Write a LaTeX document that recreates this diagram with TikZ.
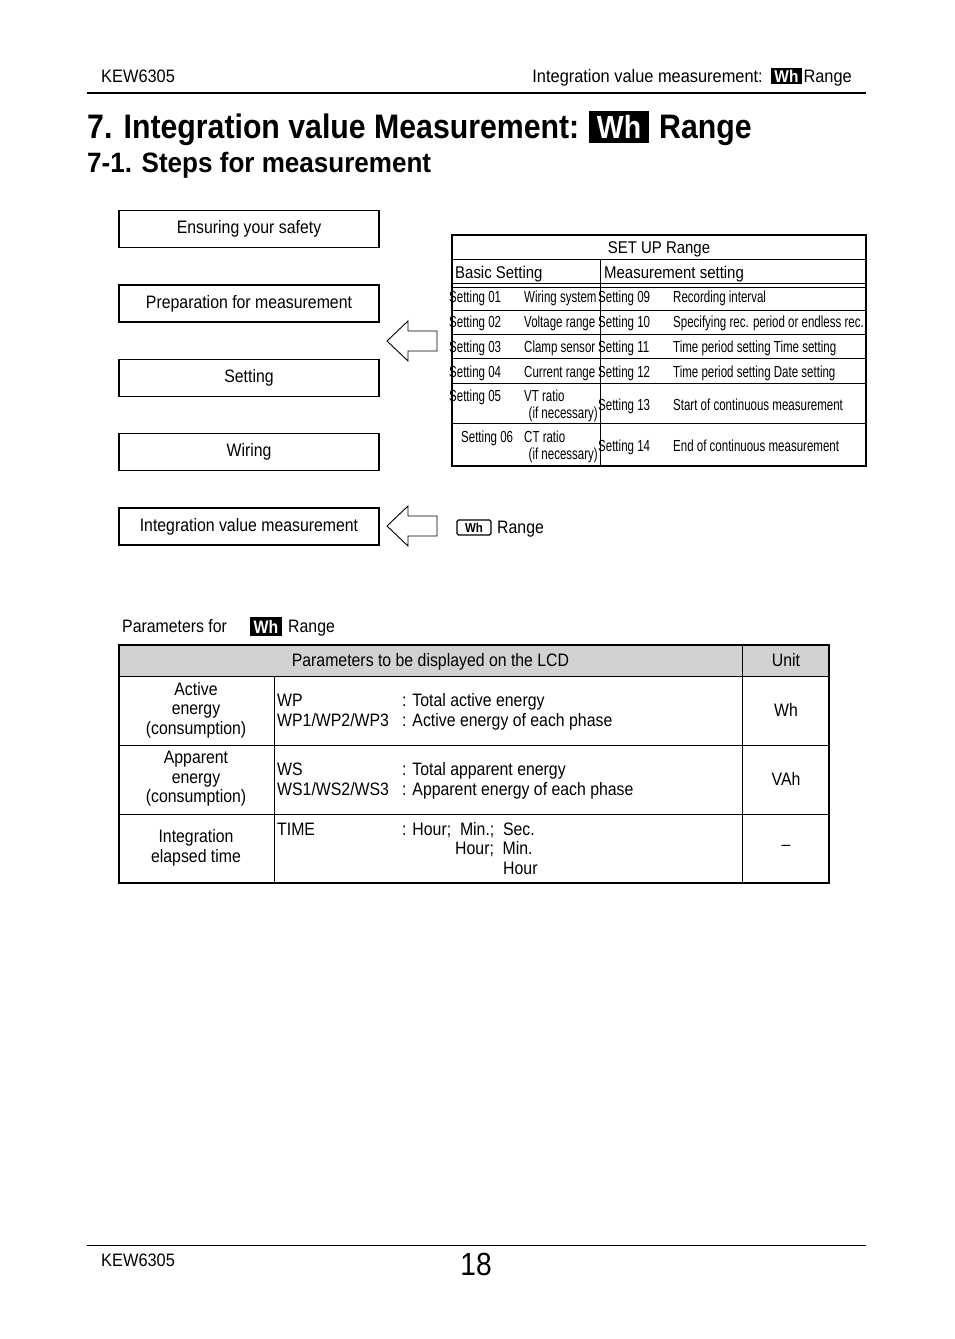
\documentclass[tikz,border=0pt]{standalone}
\usepackage{fontspec}
\setmainfont[FakeStretch=0.88]{Liberation Sans}
\newfontfamily\condf[FakeStretch=0.72]{Liberation Sans}
\newfontfamily\hdrf[FakeStretch=0.91]{Liberation Sans}
\newfontfamily\titlef[FakeStretch=0.89]{Liberation Sans}
\newfontfamily\subf[FakeStretch=0.93]{Liberation Sans}
\begin{document}
\begin{tikzpicture}[x=1pt,y=-1pt,
  txt/.style={inner sep=0pt, font=\fontsize{18}{19.5}\selectfont},
  hdr/.style={inner sep=0pt, font=\hdrf\fontsize{18}{19}\selectfont},
  small/.style={inner sep=0pt, font=\condf\fontsize{16}{17}\selectfont},
  mid/.style={inner sep=0pt, font=\fontsize{17}{19}\selectfont},
  stepbox/.style={draw, line width=1.8pt, minimum width=260pt, minimum height=37pt, inner sep=0pt,
     font=\fontsize{18}{19.5}\selectfont, text height=13pt, text depth=4pt},
  blockarrow/.style={draw, line width=0.9pt, fill=white},
  blackbadge/.style={fill=black, text=white, inner sep=0pt, font=\bfseries},
]
\useasboundingbox (0,0) rectangle (954,1339);

% ---------- header ----------
\node[hdr, anchor=base west] (hkew) at (101,82) {KEW6305};
\node[hdr, anchor=base east] (hrange) at (852,82) {Range};
\fill (771,68) rectangle (802,84);
\node[blackbadge, font=\hdrf\bfseries\fontsize{17}{19}\selectfont] (hbadge) at (786.5,76) {Wh};
\node[hdr, anchor=base east] (htext) at (763,82) {Integration value measurement:};
\draw[line width=2pt] (87,93) -- (866,93);

% ---------- titles ----------
\node[inner sep=0pt, anchor=base west, font=\titlef\bfseries\fontsize{34}{38}\selectfont] (title) at (87,138) {7. Integration value Measurement:};
\fill (589,111) rectangle (649,143);
\node[blackbadge, font=\titlef\bfseries\fontsize{32}{36}\selectfont] (tbadge) at (619,127) {Wh};
\node[inner sep=0pt, anchor=base west, font=\titlef\bfseries\fontsize{34}{38}\selectfont] (trange) at (659,138) {Range};
\node[inner sep=0pt, anchor=base west, font=\subf\bfseries\fontsize{28}{30}\selectfont] (subtitle) at (87,172) {7-1. Steps for measurement};

% ---------- step boxes ----------
\node[stepbox] (s1) at (249,229) {Ensuring your safety};
\node[stepbox] (s2) at (249,303.5) {Preparation for measurement};
\node[stepbox] (s3) at (249,378) {Setting};
\node[stepbox] (s4) at (249,452) {Wiring};
\node[stepbox] (s5) at (249,526.5) {Integration value measurement};

% ---------- block arrows ----------
\draw[blockarrow] (387,341) -- (408,321) -- (408,331) -- (437,331) -- (437,351) -- (408,351) -- (408,361) -- cycle;
\draw[blockarrow] (387,526) -- (408,506) -- (408,516) -- (437,516) -- (437,536) -- (408,536) -- (408,546) -- cycle;

% ---------- Wh range label ----------
\draw[line width=1.2pt, rounded corners=1.5pt] (457,520) rectangle (491,535);
\node[inner sep=0pt, font=\bfseries\fontsize{13}{14}\selectfont] (wbadge) at (474,528) {Wh};
\node[txt, anchor=base west] (wrange) at (497,533) {Range};

% ---------- SET UP table ----------
\draw[line width=1pt] (452,259) -- (866,259);
\draw[line width=0.8pt] (452,283) -- (866,283);
\draw[line width=0.8pt] (452,287) -- (866,287);
\foreach \yy in {310,334,358,383,423} \draw[line width=0.8pt] (452,\yy) -- (866,\yy);
\draw[line width=1pt] (600,259) -- (600,466);
\draw[line width=1.8pt] (452,235) rectangle (866,466);

\node[mid, anchor=base] (setup) at (659,253) {SET UP Range};
\node[mid, anchor=base west] (basic) at (455,278) {Basic Setting};
\node[mid, anchor=base west] (meas) at (604,278) {Measurement setting};

\node[small, anchor=base west] (b1a) at (449,302) {Setting 01};
\node[small, anchor=base west] (b1b) at (524,302) {Wiring system};
\node[small, anchor=base west] (m1a) at (598,302) {Setting 09};
\node[small, anchor=base west] (m1b) at (673,302) {Recording interval};

\node[small, anchor=base west] (b2a) at (449,327) {Setting 02};
\node[small, anchor=base west] (b2b) at (524,327) {Voltage range};
\node[small, anchor=base west] (m2a) at (598,327) {Setting 10};
\node[small, anchor=base west] (m2b) at (673,327) {Specifying rec. period or endless rec.};

\node[small, anchor=base west] (b3a) at (449,352) {Setting 03};
\node[small, anchor=base west] (b3b) at (524,352) {Clamp sensor};
\node[small, anchor=base west] (m3a) at (598,352) {Setting 11};
\node[small, anchor=base west] (m3b) at (673,352) {Time period setting Time setting};

\node[small, anchor=base west] (b4a) at (449,377) {Setting 04};
\node[small, anchor=base west] (b4b) at (524,377) {Current range};
\node[small, anchor=base west] (m4a) at (598,377) {Setting 12};
\node[small, anchor=base west] (m4b) at (673,377) {Time period setting Date setting};

\node[small, anchor=base west] (b5a) at (449,401) {Setting 05};
\node[small, anchor=base west] (b5b) at (524,401) {VT ratio};
\node[small, anchor=base east] (b5c) at (598,418) {(if necessary)};
\node[small, anchor=base west] (m5a) at (598,410) {Setting 13};
\node[small, anchor=base west] (m5b) at (673,410) {Start of continuous measurement};

\node[small, anchor=base west] (b6a) at (461,442) {Setting 06};
\node[small, anchor=base west] (b6b) at (524,442) {CT ratio};
\node[small, anchor=base east] (b6c) at (598,459) {(if necessary)};
\node[small, anchor=base west] (m6a) at (598,451) {Setting 14};
\node[small, anchor=base west] (m6b) at (673,451) {End of continuous measurement};

% ---------- Parameters for ----------
\node[txt, anchor=base west] (pfor) at (122,632) {Parameters for};
\fill (250,617) rectangle (282,636);
\node[blackbadge, font=\bfseries\fontsize{18}{19}\selectfont] (pbadge) at (266,626.5) {Wh};
\node[txt, anchor=base west] (prange) at (288,632) {Range};

% ---------- parameter table ----------
\fill[gray!35] (119,645) rectangle (829,676);
\draw[line width=1pt] (119,676) -- (829,676);
\draw[line width=1pt] (119,745) -- (829,745);
\draw[line width=1pt] (119,814) -- (829,814);
\draw[line width=1pt] (274,676) -- (274,883);
\draw[line width=1pt] (742,645) -- (742,883);
\draw[line width=1.2pt] (119,645) rectangle (829,883);
\draw[line width=2pt] (119,883) -- (829,883);

\node[txt, anchor=base] (phead) at (430.5,666) {Parameters to be displayed on the LCD};
\node[txt, anchor=base] (punit) at (786,666) {Unit};

\node[txt, align=center] (r1a) at (196,710) {Active\\energy\\(consumption)};
\node[txt, anchor=base west] (r1b) at (277,706) {WP};
\node[txt, anchor=base west] (r1c) at (277,726) {WP1/WP2/WP3};
\node[txt, anchor=base west] (r1d) at (402,706) {: Total active energy};
\node[txt, anchor=base west] (r1e) at (402,726) {: Active energy of each phase};
\node[txt, anchor=base] (r1u) at (786,716) {Wh};

\node[txt, align=center] (r2a) at (196,779) {Apparent\\energy\\(consumption)};
\node[txt, anchor=base west] (r2b) at (277,775) {WS};
\node[txt, anchor=base west] (r2c) at (277,795) {WS1/WS2/WS3};
\node[txt, anchor=base west] (r2d) at (402,775) {: Total apparent energy};
\node[txt, anchor=base west] (r2e) at (402,795) {: Apparent energy of each phase};
\node[txt, anchor=base] (r2u) at (786,785) {VAh};

\node[txt, align=center] (r3a) at (196,848) {Integration\\elapsed time};
\node[txt, anchor=base west] (r3b) at (277,835) {TIME};
\node[txt, anchor=base west] (r3c) at (402,835) {: Hour;\ \ Min.;\ \ Sec.};
\node[txt, anchor=base west] (r3d) at (455,854) {Hour;\ \ Min.};
\node[txt, anchor=base west] (r3e) at (503,874) {Hour};
\node[txt] (r3u) at (786,848) {--};

% ---------- footer ----------
\draw[line width=1pt] (87,1245) -- (866,1245);
\node[hdr, anchor=base west] (fkew) at (101,1266) {KEW6305};
\node[inner sep=0pt, anchor=base, font=\fontsize{32}{34}\selectfont] (pnum) at (476,1275) {18};
\end{tikzpicture}
\end{document}
